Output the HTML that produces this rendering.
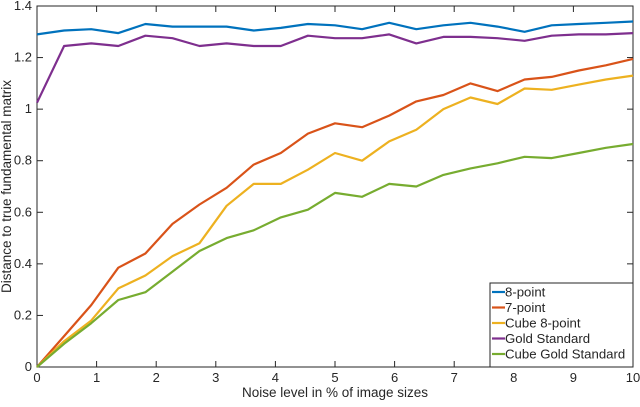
<!DOCTYPE html>
<html><head><meta charset="utf-8"><style>
body{margin:0;background:#fff}
svg text{font-family:"Liberation Sans",sans-serif;fill:#262626}
</style></head><body>
<svg width="640" height="402" xmlns="http://www.w3.org/2000/svg">
<g id="g"></g>
</svg>
<script>
const xTicks=[0,1,2,3,4,5,6,7,8,9,10];
const yTicks=[0,0.2,0.4,0.6,0.8,1,1.2,1.4];
const yTickLabels=["0","0.2","0.4","0.6","0.8","1","1.2","1.4"];
const seriesNames=["8-point","7-point","Cube 8-point","Gold Standard","Cube Gold Standard"];
const seriesColors=["#0072bd","#d95319","#edb120","#7e2f8e","#77ac30"];
const s8=[1.29,1.305,1.31,1.295,1.33,1.32,1.32,1.32,1.305,1.315,1.33,1.325,1.31,1.335,1.31,1.325,1.335,1.32,1.30,1.325,1.33,1.335,1.34];
const s7=[0,0.12,0.24,0.385,0.44,0.555,0.63,0.695,0.785,0.83,0.905,0.945,0.93,0.975,1.03,1.055,1.1,1.07,1.115,1.125,1.15,1.17,1.195];
const sCube8=[0,0.10,0.18,0.305,0.355,0.43,0.48,0.625,0.71,0.71,0.765,0.83,0.80,0.875,0.92,1.0,1.045,1.02,1.08,1.075,1.095,1.115,1.13];
const sGold=[1.025,1.245,1.255,1.245,1.285,1.275,1.245,1.255,1.245,1.245,1.285,1.275,1.275,1.29,1.255,1.28,1.28,1.275,1.265,1.285,1.29,1.29,1.295];
const sCubeGold=[0,0.09,0.17,0.26,0.29,0.37,0.45,0.50,0.53,0.58,0.61,0.675,0.66,0.71,0.70,0.745,0.77,0.79,0.815,0.81,0.83,0.85,0.865];
const allSeries=[s8,s7,sCube8,sGold,sCubeGold];
const L=37,R=633,T=6,B=367;
const xs=v=>L+(v/10)*(R-L);
const ys=v=>B-(v/1.4)*(B-T);
const g=document.getElementById('g');
const NS="http://www.w3.org/2000/svg";
function mk(t,a){const e=document.createElementNS(NS,t);for(const k in a)e.setAttribute(k,a[k]);g.appendChild(e);return e;}
let e=mk('rect',{x:L,y:T,width:R-L,height:B-T,fill:'#fff',stroke:'#262626','stroke-width':1});


xTicks.forEach(v=>{
 mk('line',{x1:xs(v),x2:xs(v),y1:B,y2:B-6,stroke:'#262626'});
 mk('line',{x1:xs(v),x2:xs(v),y1:T,y2:T+6,stroke:'#262626'});
 const t=mk('text',{x:xs(v),y:B+15,'text-anchor':'middle','font-size':13});t.textContent=v;
 
 
});
yTicks.forEach((v,i)=>{
 mk('line',{x1:L,x2:L+6,y1:ys(v),y2:ys(v),stroke:'#262626'});
 mk('line',{x1:R,x2:R-6,y1:ys(v),y2:ys(v),stroke:'#262626'});
 const t=mk('text',{x:L-5,y:ys(v)+4,'text-anchor':'end','font-size':13});t.textContent=yTickLabels[i];
 
 
});
let xt=mk('text',{x:(L+R)/2,y:397,'text-anchor':'middle','font-size':13.5});xt.textContent='Noise level in % of image sizes';


let yt=mk('text',{x:0,y:0,'text-anchor':'middle','font-size':13.5,transform:`translate(11,${(T+B)/2}) rotate(-90)`});yt.textContent='Distance to true fundamental matrix';


allSeries.forEach((s,k)=>{
 const n=s.length;
 const pts=s.map((v,i)=>xs(i*10/(n-1)).toFixed(1)+','+ys(v).toFixed(1)).join(' ');
 const p=mk('polyline',{points:pts,fill:'none',stroke:seriesColors[k],'stroke-width':2.2,'stroke-linejoin':'round'});
 
 
});
const lg=mk('rect',{x:490,y:283,width:143,height:84,fill:'#fff',stroke:'#262626','stroke-width':1});


seriesNames.forEach((nm,k)=>{
 const y=292+k*15.5;
 mk('line',{x1:492,x2:505,y1:y,y2:y,stroke:seriesColors[k],'stroke-width':2.2});
 const t=mk('text',{x:505,y:y+4.5,'font-size':13.2});t.textContent=nm;
 
 
});
</script>
</body></html>
